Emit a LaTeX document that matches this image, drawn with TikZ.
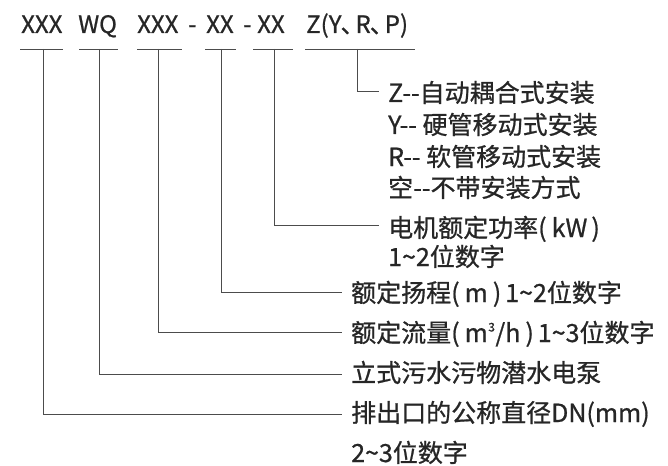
\documentclass[tikz,border=0pt]{standalone}
\usepackage{fontspec}
\setmainfont{Noto Sans CJK SC}[FakeBold=0.8]
\newcommand{\tld}{{\char"7E}}
\newcommand{\supthree}{\kern0.5pt\raisebox{0.42em}{\fontsize{12}{12}\selectfont 3}\kern0.5pt}
\begin{document}
\begin{tikzpicture}[x=1pt,y=-1pt,
  tok/.style={anchor=base west,inner sep=0pt,font=\fontsize{24}{26}\selectfont,text=black!85},
  lbl/.style={anchor=base west,inner sep=0pt,font=\fontsize{25}{28}\selectfont,text=black!85},
  seg/.style={line width=0.9pt,draw=black!70},
  conn/.style={line width=0.9pt,draw=black!70}]
\useasboundingbox (0,0) rectangle (668,465);
% top code tokens
\node[tok] (t1) at (21,33) {XXX};
\node[tok] (t2) at (78,33) {WQ};
\node[tok] (t3) at (137,33) {XXX};
\node[tok] (d1) at (188,33) {-};
\node[tok] (t4) at (206,33) {XX};
\node[tok] (d2) at (243,33) {-};
\node[tok] (t5) at (257,33) {XX};
\node[tok] (t6) at (306,33) {Z(Y\kern-1pt、\kern-9pt R\kern-1pt、\kern-9pt P)};
% underline segments
\coordinate (u1a) at (20,49); \coordinate (u1b) at (63,49);
\coordinate (u2a) at (79,49); \coordinate (u2b) at (118,49);
\coordinate (u3a) at (137,49); \coordinate (u3b) at (182,49);
\coordinate (u4a) at (205,49); \coordinate (u4b) at (236,49);
\coordinate (u5a) at (253,49); \coordinate (u5b) at (293,49);
\coordinate (u6a) at (305,49); \coordinate (u6b) at (415,49);
\foreach \i in {1,...,6} {\draw[seg] (u\i a) -- (u\i b);}
% connector start points
\coordinate (s1) at (43,49);
\coordinate (s2) at (99,49);
\coordinate (s3) at (158,49);
\coordinate (s4) at (221,49);
\coordinate (s5) at (274,49);
\coordinate (s6) at (357,49);
% connector end points
\coordinate (e6) at (379,91);
\coordinate (e5) at (379,225);
\coordinate (e4) at (342,292);
\coordinate (e3) at (342,332);
\coordinate (e2) at (342,374);
\coordinate (e1) at (342,414);
\foreach \i in {1,...,6} {\draw[conn] (s\i) |- (e\i);}
% labels
\node[lbl] (z) at (388,102) {Z-{}-自动耦合式安装};
\node[lbl] (y) at (388,134) {Y-{}- 硬管移动式安装};
\node[lbl] (r) at (388,166) {R-{}- 软管移动式安装};
\node[lbl] (k) at (388,197) {空-{}-不带安装方式};
\node[lbl] (p) at (388,237) {电机额定功率(\kern5pt kW\kern4pt)};
\node[lbl] (p2) at (388,266) {1\tld 2位数字};
\node[lbl] (h) at (351,302) {额定扬程(\kern5pt m\kern5pt)\kern4pt 1\tld 2位数字};
\node[lbl] (q) at (351,342) {额定流量(\kern5pt m\supthree/h\kern5pt)\kern4pt 1\tld 3位数字};
\node[lbl] (w) at (351,382) {立式污水污物潜水电泵};
\node[lbl] (dn) at (351,422) {排出口的公称直径DN(mm)};
\node[lbl] (dn2) at (351,462) {2\tld 3位数字};
\end{tikzpicture}
\end{document}
